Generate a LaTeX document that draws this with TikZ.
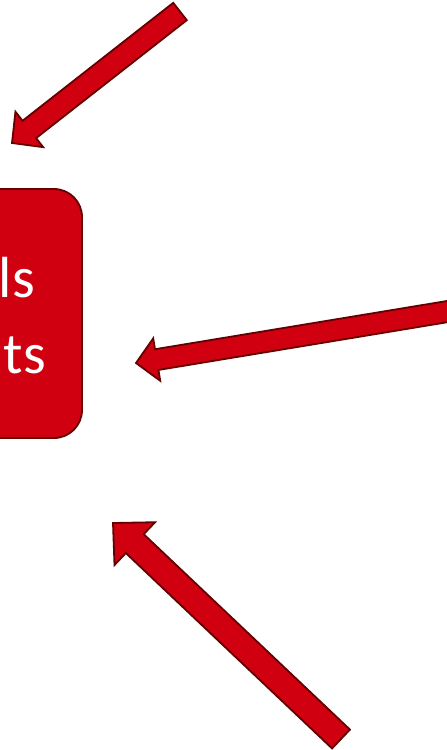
\documentclass[tikz,border=0pt]{standalone}
\usepackage{fontspec}
\setmainfont{Carlito}
\usetikzlibrary{calc}
\definecolor{boxred}{RGB}{208,0,16}
\definecolor{edgered}{RGB}{100,0,0}
\tikzset{
  redshape/.style={fill=boxred, draw=edgered, line width=1.8pt, line join=miter},
  boxtext/.style={text=white, font=\fontsize{58}{70}\selectfont, inner sep=0pt},
}
% #1 tail, #2 tip, #3 shaft half width, #4 head half width, #5 head length
\newcommand{\blockarrow}[5]{%
  \coordinate (hb) at ($(#2)!#5!(#1)$);
  \draw[redshape]
    ($(#1)!#3!90:(#2)$) -- ($(hb)!#3!-90:(#1)$) -- ($(hb)!#4!-90:(#1)$) -- (#2)
    -- ($(hb)!#4!90:(#1)$) -- ($(hb)!#3!90:(#1)$) -- ($(#1)!#3!-90:(#2)$) -- cycle;
}
\begin{document}
\begin{tikzpicture}[x=1pt,y=-1pt]
  \useasboundingbox (0,0) rectangle (447,750);
  \fill[white] (0,0) rectangle (447,750);
  % box, cut off at left
  \draw[redshape, rounded corners=28pt] (-60,189) -- (82,189) -- (82,438) -- (-60,438);
  \node[boxtext, anchor=base east] (lineone) at (35,297) {ls};
  \node[boxtext, anchor=base east] (linetwo) at (46,373) {ts};
  % arrows
  \coordinate (toptail) at (180,11.5);
  \coordinate (toptip) at (12,143);
  \coordinate (righttail) at (475,307);
  \coordinate (righttip) at (136,363);
  \coordinate (bottail) at (341,739);
  \coordinate (bottip) at (113,523);
  \blockarrow{toptail}{toptip}{11pt}{22.5pt}{22pt}
  \blockarrow{righttail}{righttip}{10.5pt}{21.5pt}{21pt}
  \blockarrow{bottail}{bottip}{13pt}{29.5pt}{30pt}
\end{tikzpicture}
\end{document}
